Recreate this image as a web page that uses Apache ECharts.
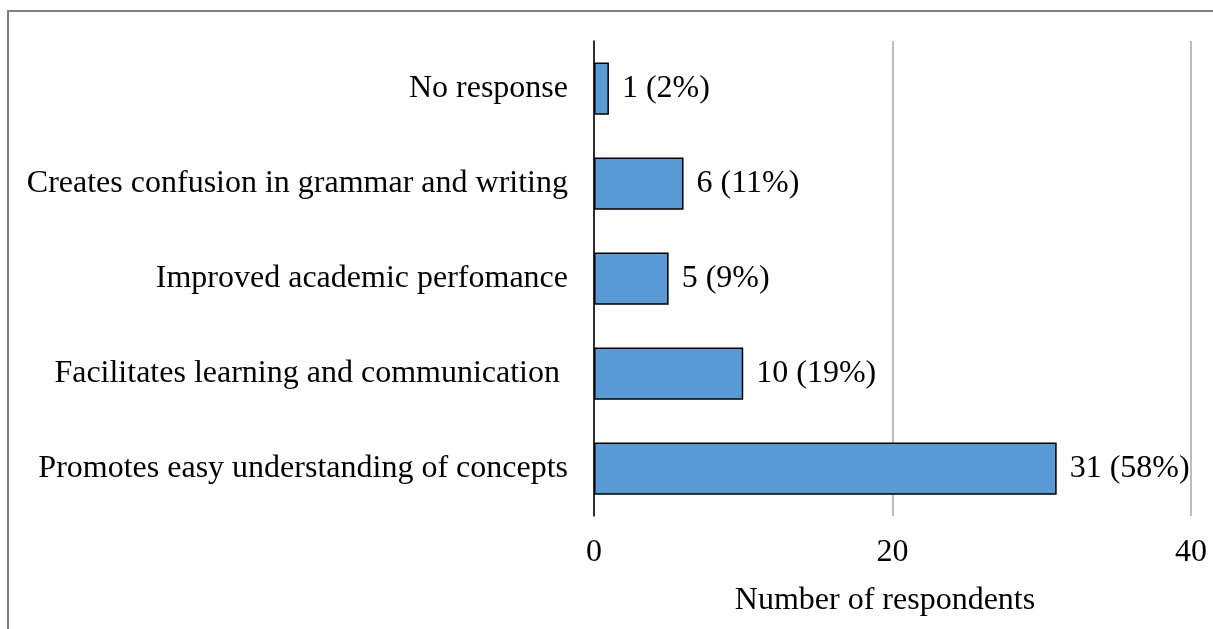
<!DOCTYPE html>
<html>
<head>
<meta charset="utf-8">
<script src="https://cdn.jsdelivr.net/npm/echarts@6/dist/echarts.min.js"></script>
<style>
  html, body { margin: 0; padding: 0; background: #fff; }
  #chart { width: 1213px; height: 629px; }
</style>
</head>
<body>
<div id="chart"></div>
<script>
// top to bottom, as in the picture
const categories = [
  'No response',
  'Creates confusion in grammar and writing',
  'Improved academic perfomance',
  'Facilitates learning and communication ',
  'Promotes easy understanding of concepts'
]
const counts = [1, 6, 5, 10, 31]
const percents = [2, 11, 9, 19, 58]
const xTicks = [0, 20, 40]

const font = '"Liberation Serif", "Times New Roman", serif'

const chart = echarts.init(document.getElementById('chart'))
const option = {
  animation: false,
  textStyle: { fontFamily: font },
  grid: {
    left: 594,
    right: 22,
    top: 41,
    bottom: 113
  },
  xAxis: {
    type: 'value',
    min: xTicks[0],
    max: xTicks[xTicks.length - 1],
    interval: 20,
    name: 'Number of respondents',
    nameLocation: 'middle',
    nameGap: 69,
    nameTextStyle: {
      fontFamily: font,
      fontSize: 32,
      color: '#000',
      padding: [0, 15, 0, 0]
    },
    axisLine: { show: false },
    axisTick: { show: false },
    axisLabel: {
      fontFamily: font,
      fontSize: 32,
      color: '#000',
      margin: 21
    },
    splitLine: {
      lineStyle: { color: '#a6a6a6', width: 1.5 }
    }
  },
  yAxis: {
    type: 'category',
    inverse: true,
    data: categories,
    axisLine: { show: true, lineStyle: { color: '#000', width: 1.5 } },
    axisTick: { show: false },
    axisLabel: {
      fontFamily: font,
      fontSize: 32,
      color: '#000',
      margin: 26
    }
  },
  series: [
    {
      type: 'bar',
      data: counts,
      barCategoryGap: '45%',
      itemStyle: {
        color: '#5b9bd5',
        borderColor: '#000',
        borderWidth: 1.5
      },
      label: {
        show: true,
        position: 'right',
        distance: 13,
        fontFamily: font,
        fontSize: 32,
        color: '#000',
        formatter: p => counts[p.dataIndex] + ' (' + percents[p.dataIndex] + '%)'
      }
    }
  ],
  graphic: [
    {
      type: 'polyline',
      shape: { points: [[8, 629], [8, 11], [1213, 11]] },
      style: { stroke: '#808080', lineWidth: 2, fill: null }
    }
  ]
}
chart.setOption(option)
</script>
</body>
</html>
